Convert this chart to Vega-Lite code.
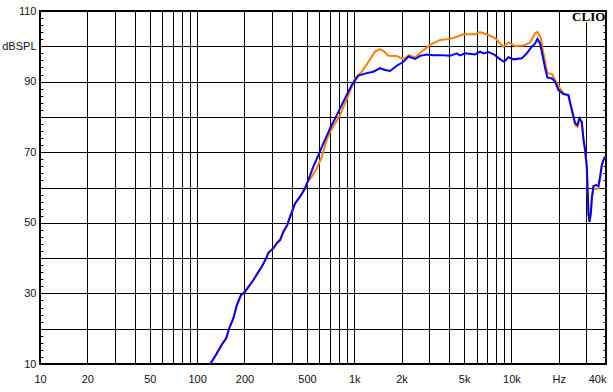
{
 "$schema": "https://vega.github.io/schema/vega-lite/v6.json",
 "width": 566, "height": 353,
 "autosize": {"type": "none"},
 "padding": {"left": 40, "top": 11, "right": 7, "bottom": 28},
 "background": "white",
 "config": {"view": {"stroke": "black", "strokeWidth": 2}, "axis": {"labelFont": "Liberation Sans", "labelFontSize": 11, "labelColor": "#111111"}},
 "datasets": {
  "blue": [
   {"f":121,"db":10},{"f":130,"db":12.1},{"f":143,"db":15.4},{"f":153,"db":17.3},{"f":160,"db":20.1},{"f":170,"db":22.9},{"f":179,"db":26.7},{"f":190,"db":29.5},{"f":202,"db":30.5},{"f":228,"db":33.8},{"f":258,"db":37.6},{"f":275,"db":39.9},{"f":284,"db":41.5},{"f":306,"db":42.8},{"f":321,"db":44.2},{"f":337,"db":45.1},{"f":354,"db":47.5},{"f":375,"db":49.4},{"f":390,"db":51.7},{"f":420,"db":55.5},{"f":452,"db":57.4},{"f":486,"db":59.8},{"f":510,"db":62.1},{"f":549,"db":65.9},{"f":591,"db":69.2},{"f":636,"db":72.5},{"f":702,"db":76.8},{"f":774,"db":80.5},{"f":874,"db":85.3},{"f":964,"db":89.0},{"f":1062,"db":91.7},{"f":1201,"db":92.4},{"f":1323,"db":92.8},{"f":1459,"db":93.8},{"f":1570,"db":93.3},{"f":1690,"db":93.0},{"f":1865,"db":94.5},{"f":2054,"db":95.6},{"f":2210,"db":97.1},{"f":2438,"db":96.4},{"f":2624,"db":97.3},{"f":2894,"db":97.7},{"f":3188,"db":97.5},{"f":3517,"db":97.5},{"f":4072,"db":97.3},{"f":4491,"db":98.0},{"f":4716,"db":97.4},{"f":5074,"db":98.0},{"f":5872,"db":97.7},{"f":6322,"db":98.5},{"f":6634,"db":98.0},{"f":7139,"db":98.4},{"f":7877,"db":97.5},{"f":8475,"db":96.3},{"f":8985,"db":95.6},{"f":9571,"db":96.9},{"f":10300,"db":96.3},{"f":11650,"db":96.6},{"f":12530,"db":98.0},{"f":13480,"db":99.9},{"f":14160,"db":100.8},{"f":14640,"db":102.1},{"f":15230,"db":100.8},{"f":15840,"db":97.1},{"f":16390,"db":93.8},{"f":16950,"db":91.2},{"f":18080,"db":90.9},{"f":18980,"db":90.0},{"f":19920,"db":87.6},{"f":21430,"db":86.5},{"f":23060,"db":86.2},{"f":24240,"db":82.0},{"f":25440,"db":78.2},{"f":26310,"db":77.7},{"f":27100,"db":79.6},{"f":28060,"db":78.6},{"f":28730,"db":73.9},{"f":29450,"db":70.6},{"f":30190,"db":65.9},{"f":30920,"db":52.7},{"f":31370,"db":50.3},{"f":32020,"db":52.7},{"f":32490,"db":56.9},{"f":33270,"db":60.4},{"f":34600,"db":60.7},{"f":35790,"db":60.4},{"f":36700,"db":63.1},{"f":37620,"db":66.4},{"f":38910,"db":68.3},{"f":39660,"db":68.7}
  ],
  "orange": [
   {"f":121,"db":10},{"f":130,"db":12.1},{"f":143,"db":15.4},{"f":153,"db":17.3},{"f":160,"db":20.1},{"f":170,"db":22.9},{"f":179,"db":26.7},{"f":190,"db":29.5},{"f":202,"db":30.5},{"f":228,"db":33.8},{"f":258,"db":37.6},{"f":275,"db":39.9},{"f":284,"db":41.5},{"f":306,"db":42.8},{"f":321,"db":44.2},{"f":337,"db":45.1},{"f":354,"db":47.5},{"f":375,"db":49.4},{"f":390,"db":51.7},{"f":420,"db":55.5},{"f":452,"db":57.4},{"f":486,"db":59.8},{"f":510,"db":62.0},{"f":523,"db":62.3},{"f":577,"db":65.4},{"f":621,"db":68.7},{"f":668,"db":73.5},{"f":702,"db":75.8},{"f":812,"db":80.5},{"f":918,"db":86.2},{"f":1012,"db":90.9},{"f":1116,"db":92.8},{"f":1230,"db":95.6},{"f":1357,"db":98.5},{"f":1445,"db":99.2},{"f":1532,"db":98.7},{"f":1649,"db":97.3},{"f":1865,"db":97.25},{"f":2054,"db":96.4},{"f":2243,"db":97.5},{"f":2438,"db":96.8},{"f":2690,"db":98.5},{"f":3037,"db":100.4},{"f":3517,"db":101.8},{"f":4072,"db":102.1},{"f":4491,"db":102.7},{"f":4949,"db":103.4},{"f":5872,"db":103.4},{"f":6322,"db":104.0},{"f":7139,"db":103.2},{"f":7877,"db":102.3},{"f":8475,"db":100.8},{"f":8896,"db":99.9},{"f":9571,"db":101.1},{"f":10560,"db":100.1},{"f":11930,"db":100.2},{"f":13150,"db":101.1},{"f":14160,"db":103.7},{"f":14640,"db":104.1},{"f":15390,"db":102.3},{"f":15990,"db":98.0},{"f":16950,"db":92.4},{"f":18080,"db":92.2},{"f":19450,"db":89.5},{"f":21430,"db":86.7},{"f":23060,"db":86.0},{"f":24240,"db":81.8},{"f":25440,"db":77.8},{"f":26310,"db":77.2},{"f":27100,"db":79.3},{"f":28060,"db":78.3},{"f":28730,"db":73.6},{"f":29450,"db":70.4},{"f":30190,"db":65.7},{"f":30920,"db":52.6},{"f":31370,"db":50.2},{"f":32020,"db":52.6},{"f":32490,"db":56.7},{"f":33270,"db":59.8},{"f":34600,"db":59.5},{"f":35790,"db":59.8},{"f":36700,"db":62.8},{"f":37620,"db":66.2},{"f":38910,"db":68.2},{"f":39660,"db":68.6}
  ]
 },
 "layer": [
  {
   "data": {"name": "orange"},
   "mark": {"type": "line", "color": "#ff8000", "strokeWidth": 2, "clip": true},
   "encoding": {
    "x": {"field": "f", "type": "quantitative",
     "scale": {"type": "log", "domain": [10, 40000], "nice": false},
     "axis": {"orient": "bottom", "title": null, "domain": false, "ticks": false,
      "values": [10,20,30,40,50,60,70,80,90,100,200,300,400,500,600,700,800,900,1000,2000,3000,4000,5000,6000,7000,8000,9000,10000,20000,30000,40000],
      "labelExpr": "datum.value==10?'10':datum.value==20?'20':datum.value==50?'50':datum.value==100?'100':datum.value==200?'200':datum.value==500?'500':datum.value==1000?'1k':datum.value==2000?'2k':datum.value==5000?'5k':datum.value==10000?'10k':datum.value==20000?'Hz':datum.value==40000?'40k':''",
      "labelOverlap": false, "labelFlush": false, "labelBound": false,
      "labelAlign": {"condition": {"test": "datum.value >= 40000", "value": "right"}, "value": "center"},
      "labelPadding": 9,
      "grid": true, "gridColor": "black", "gridWidth": 1, "gridOpacity": 1}
    },
    "y": {"field": "db", "type": "quantitative",
     "scale": {"domain": [10, 110], "nice": false, "zero": false},
     "axis": {"orient": "left", "title": null, "domain": false,
      "values": [10,12,14,16,18,20,22,24,26,28,30,32,34,36,38,40,42,44,46,48,50,52,54,56,58,60,62,64,66,68,70,72,74,76,78,80,82,84,86,88,90,92,94,96,98,100,102,104,106,108,110],
      "ticks": true, "tickSize": -3, "tickColor": "black", "tickWidth": 1,
      "labelExpr": "datum.value==100?'dBSPL':(datum.value%20==10?datum.label:'')",
      "labelOverlap": false, "labelFlush": false, "labelBound": false,
      "labelPadding": 7,
      "grid": true, "gridColor": "black", "gridWidth": 1,
      "gridOpacity": {"condition": {"test": "datum.value % 10 == 0", "value": 1}, "value": 0}}
    }
   }
  },
  {
   "data": {"name": "blue"},
   "mark": {"type": "line", "color": "#0000ff", "strokeWidth": 2, "clip": true},
   "encoding": {
    "x": {"field": "f", "type": "quantitative", "axis": null},
    "y": {"field": "db", "type": "quantitative",
     "axis": {"orient": "right", "title": null, "domain": false, "labels": false, "grid": false,
      "values": [10,12,14,16,18,20,22,24,26,28,30,32,34,36,38,40,42,44,46,48,50,52,54,56,58,60,62,64,66,68,70,72,74,76,78,80,82,84,86,88,90,92,94,96,98,100,102,104,106,108,110],
      "ticks": true, "tickSize": -3, "tickColor": "black", "tickWidth": 1}
    }
   }
  },
  {
   "data": {"values": [{"a": 1}]},
   "mark": {"type": "rect", "color": "white"},
   "encoding": {
    "x": {"datum": 24000, "type": "quantitative", "axis": null},
    "x2": {"datum": 39400},
    "y": {"datum": 106.8, "type": "quantitative", "axis": null},
    "y2": {"datum": 109.7}
   }
  },
  {
   "data": {"values": [{"label": "CLIO"}]},
   "mark": {"type": "text", "align": "right", "baseline": "middle", "font": "Liberation Serif", "fontWeight": "bold", "fontSize": 13, "color": "black"},
   "encoding": {
    "x": {"datum": 39600, "type": "quantitative", "axis": null},
    "y": {"datum": 108.4, "type": "quantitative", "axis": null},
    "text": {"field": "label"}
   }
  }
 ],
 "resolve": {"axis": {"x": "independent", "y": "independent"}}
}
